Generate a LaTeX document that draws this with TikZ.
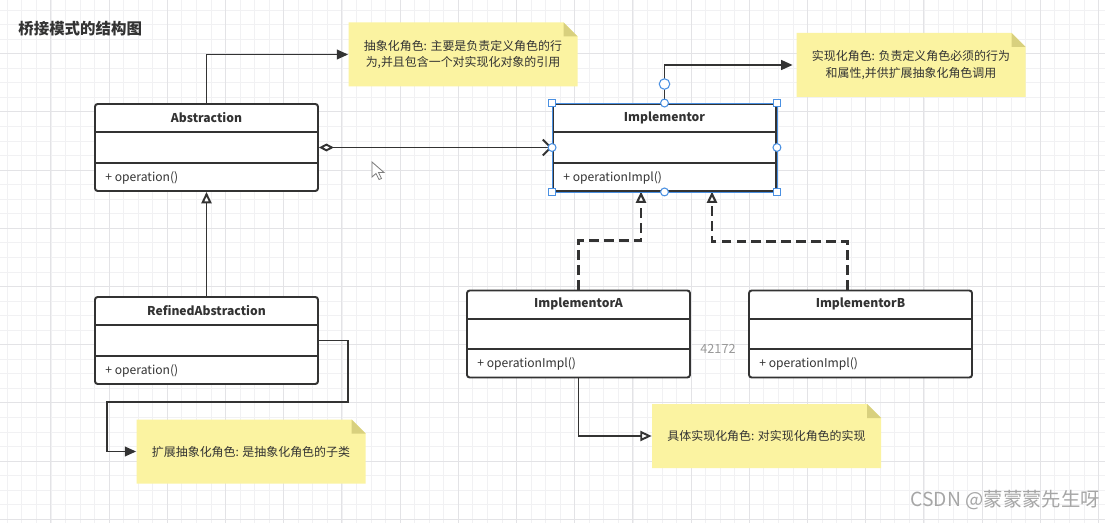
\documentclass[tikz,border=0pt]{standalone}
\usepackage{fontspec}
\setmainfont{Noto Sans CJK SC}
\usepackage{xcolor}
\usetikzlibrary{arrows.meta, positioning, calc}
\definecolor{ink}{HTML}{333333}
\definecolor{notefill}{HTML}{FBF3A1}
\definecolor{notefold}{HTML}{D8D07E}
\definecolor{selblue}{HTML}{4A90E2}
\definecolor{gridminor}{HTML}{F1F1F3}
\definecolor{gridmajor}{HTML}{E3E3E6}
\tikzset{
  classbox/.style={draw=ink, line width=1.1pt, rounded corners=1.5pt, fill=white, minimum width=4.46cm, minimum height=1.74cm, inner sep=0pt},
  classline/.style={draw=ink, line width=1.1pt},
  classname/.style={text=ink, font=\fontsize{6.9}{8}\selectfont\bfseries},
  classop/.style={text=ink, font=\fontsize{6.9}{8}\selectfont, inner sep=0pt},
  notetext/.style={text=ink, font=\fontsize{6.8}{9.5}\selectfont, align=center, minimum width=4.58cm, minimum height=1.28cm, inner sep=0pt},
  conn/.style={draw=ink, line width=1.1pt},
  filltip/.style={conn, -{Triangle[length=6.5pt,width=5.5pt]}},
  opentip/.style={conn, -{Triangle[open,fill=white,length=6.5pt,width=5.8pt]}},
  realize/.style={opentip, line width=1.2pt, dash pattern=on 5.5pt off 3pt},
  handlesq/.style={draw=selblue, fill=white, line width=0.6pt, minimum size=4.3pt, inner sep=0pt},
  handlecirc/.style={circle, draw=selblue, fill=white, line width=0.6pt, minimum size=4.5pt, inner sep=0pt}
}
% class box: name, x, y, title, method
\newcommand{\umlclass}[5]{%
  \node[classbox] (#1) at (#2,#3) {};
  \draw[classline] ([yshift=-0.58cm]#1.north west) -- ([yshift=-0.58cm]#1.north east);
  \draw[classline] ([yshift=0.58cm]#1.south west) -- ([yshift=0.58cm]#1.south east);
  \node[classname] (#1-name) at ([yshift=-0.29cm]#1.north) {#4};
  \node[classop, anchor=west] (#1-op) at ([xshift=0.22cm,yshift=0.29cm]#1.south west) {#5};}
% yellow note with folded corner: name, x, y, text
\newcommand{\stickynote}[4]{%
  \fill[notefill] ({#2-114.5},{#3-32}) -- ({#2+100.5},{#3-32}) -- ({#2+114.5},{#3-18}) -- ({#2+114.5},{#3+32}) -- ({#2-114.5},{#3+32}) -- cycle;
  \fill[notefold] ({#2+100.5},{#3-32}) -- ({#2+114.5},{#3-18}) -- ({#2+100.5},{#3-18}) -- cycle;
  \node[notetext] (#1) at (#2,#3) {#4};}

\begin{document}
\begin{tikzpicture}[x=0.02cm, y=-0.02cm]
 \fill[white] (0,0) rectangle (1105,523); % page
 \useasboundingbox (0,0) rectangle (1105,523);
 % grid
 \foreach \gx in {7.3,21.85,...,1105} {\draw[gridminor, line width=0.5pt] (\gx,0) -- (\gx,523);}
 \foreach \gy in {10.05,24.6,...,523} {\draw[gridminor, line width=0.5pt] (0,\gy) -- (1105,\gy);}
 \foreach \gx in {50.95,109.15,...,1105} {\draw[gridmajor, line width=0.6pt] (\gx,0) -- (\gx,523);}
 \foreach \gy in {53.7,111.9,...,523} {\draw[gridmajor, line width=0.6pt] (0,\gy) -- (1105,\gy);}
 \node[anchor=west, text=ink, font=\fontsize{8.8}{10}\selectfont\bfseries, inner sep=0pt] (title) at (18,29) {桥接模式的结构图};
 % notes
 \stickynote{absnote}{463}{54.5}{抽象化角色: 主要是负责定义角色的行\\为,并且包含一个对实现化对象的引用}
 \stickynote{impnote}{911}{65}{实现化角色: 负责定义角色必须的行为\\和属性,并供扩展抽象化角色调用}
 \stickynote{refnote}{251}{451.5}{扩展抽象化角色: 是抽象化角色的子类}
 \stickynote{concnote}{766.5}{436}{具体实现化角色: 对实现化角色的实现}
 % classes
 \umlclass{abs}{206.5}{147.5}{Abstraction}{+ operation()}
 \umlclass{imp}{664.5}{147.5}{Implementor}{+ operationImpl()}
 \umlclass{ref}{206.5}{340.5}{RefinedAbstraction}{+ operation()}
 \umlclass{impA}{578.5}{334}{ImplementorA}{+ operationImpl()}
 \umlclass{impB}{860.5}{334}{ImplementorB}{+ operationImpl()}
 \coordinate (impL) at (641,191.5);
 \coordinate (impR) at (712,191.5);
 % connectors
 \draw[filltip] (abs.north) |- (absnote.west);
 \draw[filltip, shorten >=2pt] (imp.north) |- (impnote.west);
 \draw[conn, {Diamond[open,fill=white,length=8.5pt,width=4.5pt]}-{Straight Barb[length=4.5pt,width=9pt]}] (abs.east) -- (imp.west);
 \draw[opentip] (ref.north) -- (abs.south);
 \draw[filltip] (ref.east) -- ++(29,0) |- (107,402) |- (refnote.west);
 \draw[realize] (impA.north) -- ++(0,-49) -| (impL);
 \draw[realize] ([xshift=-0.26cm]impB.north) -- ++(0,-48) -| (impR);
 \draw[opentip] (impA.south) |- (concnote.west);
 % selection handles on Implementor
 \draw[selblue, line width=0.5pt] (imp.north west) rectangle (imp.south east);
 \foreach \c/\n in {north west/nw, north east/ne, south west/sw, south east/se}
  {\node[handlesq] (hnd-\n) at (imp.\c) {};}
 \foreach \c/\n in {north/n, south/s, west/w, east/e}
  {\node[handlecirc] (hnd-\n) at (imp.\c) {};}
 \node[handlecirc, minimum size=6pt] (hnd-top) at ($(imp.north)+(0,-19)$) {};
 % cursor
 \filldraw[fill=white, draw=gray, line width=0.5pt] (372,162) -- (372,177) -- (376,173.5) -- (379,179.5) -- (381.5,178.5) -- (378.5,172.5) -- (384,172.5) -- cycle;
 \node[text=gray!80, font=\fontsize{7.2}{8}\selectfont, inner sep=0pt] (lblnum) at (718,349) {42172};
 \node[anchor=east, text=black!35, font=\fontsize{11}{12}\selectfont, inner sep=0pt] (mark) at (1100,500) {CSDN @蒙蒙蒙先生呀};
\end{tikzpicture}
\end{document}
